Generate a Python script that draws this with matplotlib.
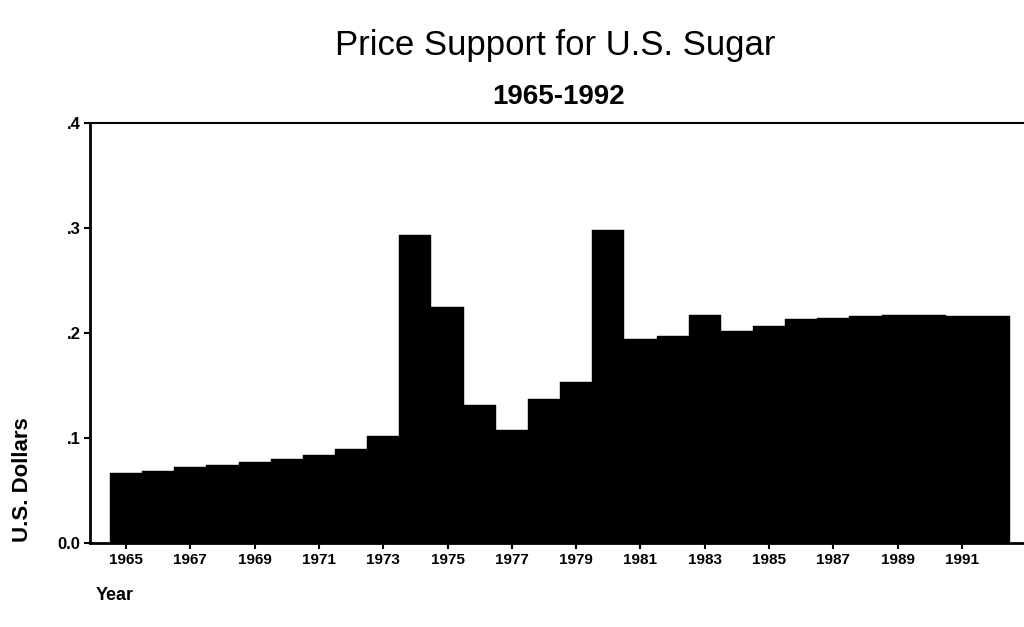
import matplotlib
matplotlib.use('Agg')
import matplotlib.pyplot as plt

plt.rcParams['font.family'] = ['Liberation Sans', 'DejaVu Sans']

# data (price support, US dollars per pound)
years = list(range(1965, 1993))
price = [0.067, 0.069, 0.072, 0.074, 0.077, 0.080, 0.084, 0.0895, 0.1015, 0.2935,
         0.2245, 0.1315, 0.108, 0.137, 0.153, 0.2985, 0.1945, 0.197, 0.217, 0.2015,
         0.207, 0.2135, 0.214, 0.2165, 0.2175, 0.217, 0.2165, 0.2160]
tick_years = list(range(1965, 1992, 2))
y_ticks = [0.0, 0.1, 0.2, 0.3, 0.4]
y_labels = ['0.0', '.1', '.2', '.3', '.4']

fig = plt.figure(figsize=(10.24, 6.27), dpi=100)
ax = fig.add_axes([90 / 1024, 84 / 627, 942 / 1024, 420 / 627])

ax.bar(years, price, width=1.0, color='black', edgecolor='black', linewidth=0.3)

ax.set_xlim(1963.878, 1993.18)
ax.set_ylim(0, 0.4)
ax.set_xticks(tick_years)
ax.set_xticklabels([str(y) for y in tick_years], fontsize=11, fontweight='bold')
ax.set_yticks(y_ticks)
ax.set_yticklabels(y_labels, fontsize=12, fontweight='bold')
ax.tick_params(axis='both', direction='out', length=4, width=1.5, pad=3)

ax.spines['right'].set_visible(False)
ax.spines['left'].set_linewidth(2)
ax.spines['bottom'].set_linewidth(2)
ax.spines['top'].set_linewidth(1.5)

# titles
fig.text(0.542, 0.928, 'Price Support for U.S. Sugar', fontsize=25,
         ha='center', va='center')
fig.text(0.545, 0.845, '1965-1992', fontsize=20, fontweight='bold',
         ha='center', va='center')

# axis labels
fig.text(0.022, 0.235, 'U.S. Dollars', fontsize=16, fontweight='bold',
         rotation=90, ha='center', va='center')
fig.text(0.093, 0.05, 'Year', fontsize=13, fontweight='bold',
         ha='left', va='center')

fig.savefig('out.png', dpi=100)
